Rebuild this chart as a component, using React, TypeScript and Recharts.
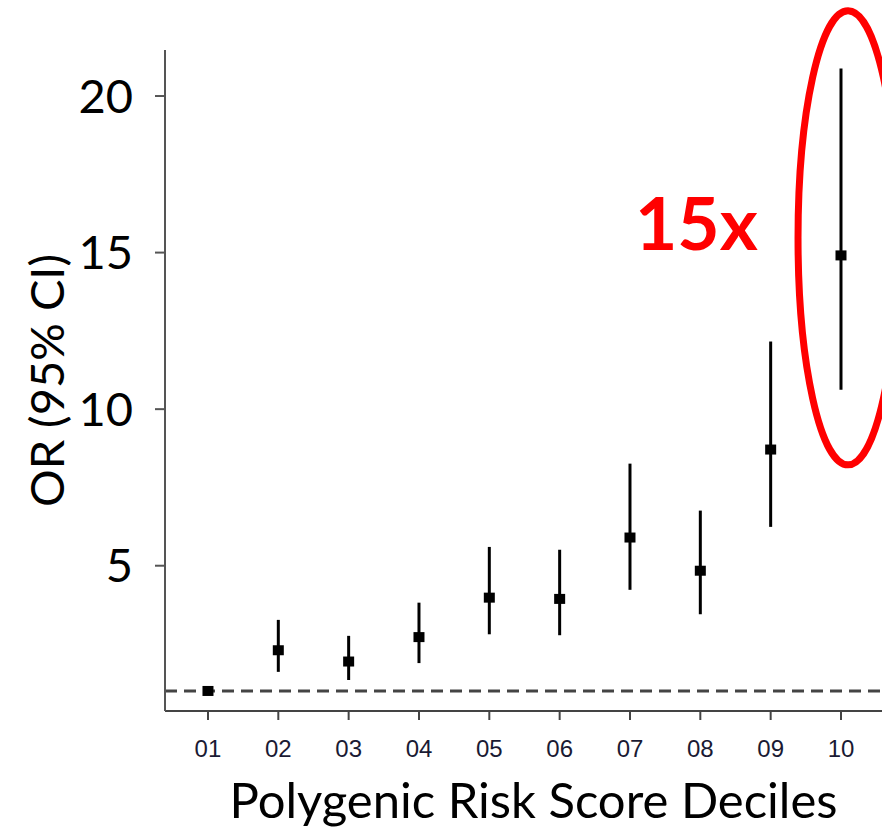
import React from 'react';
import {
  ComposedChart,
  Scatter,
  XAxis,
  YAxis,
  ErrorBar,
  ReferenceLine,
  ReferenceDot,
} from 'recharts';

const decileLabels = ['01', '02', '03', '04', '05', '06', '07', '08', '09', '10'];
const decileNumbers = [1, 2, 3, 4, 5, 6, 7, 8, 9, 10];
const oddsRatio = [1.0, 2.3, 1.94, 2.72, 3.98, 3.94, 5.9, 4.84, 8.71, 14.91];
const ciLower = [1.0, 1.61, 1.35, 1.89, 2.81, 2.78, 4.23, 3.45, 6.24, 10.62];
const ciUpper = [1.0, 3.27, 2.76, 3.82, 5.6, 5.51, 8.26, 6.76, 12.16, 20.88];
const yTicks = [5, 10, 15, 20];
const referenceOR = 1;
const annotationText = '15x';
const annotationAnchor = { x: 10.1, y: 15.47 };

const data = decileNumbers.map((d, i) => ({
  decile: d,
  label: decileLabels[i],
  or: oddsRatio[i],
  err: [oddsRatio[i] - ciLower[i], ciUpper[i] - oddsRatio[i]],
}));

const SquareMarker = (props: any) => {
  const { cx, cy } = props;
  if (cx == null || cy == null) return null;
  return <rect x={cx - 5.5} y={cy - 5} width={11} height={10} fill="#000" />;
};

const Annotation = (props: any) => {
  const { cx, cy } = props;
  if (cx == null || cy == null) return null;
  return (
    <g>
      <ellipse cx={cx} cy={cy} rx={50} ry={227} fill="none" stroke="#ff0000" strokeWidth={7} />
      <text
        x={cx - 213}
        y={cy + 12}
        fill="#ff0000"
        fontFamily="Lato, 'Open Sans', sans-serif"
        fontWeight={700}
        fontSize={73}
      >
        {annotationText}
      </text>
    </g>
  );
};

export default function App() {
  return (
    <div style={{ position: 'absolute', left: 0, top: 0, background: '#fff' }}>
      <ComposedChart
        width={882}
        height={827}
        data={data}
        margin={{ top: 50, right: 0, left: 0, bottom: 0 }}
      >
        <XAxis
          type="number"
          dataKey="decile"
          domain={[0.389, 10.583]}
          allowDataOverflow
          ticks={decileNumbers}
          tickFormatter={(v: number) => decileLabels[v - 1]}
          height={116}
          axisLine={{ stroke: '#444', strokeWidth: 2 }}
          tickLine={{ stroke: '#444', strokeWidth: 2 }}
          tickSize={9}
          tickMargin={20}
          tick={{ fill: '#1a1a33', fontSize: 24, fontFamily: "'Liberation Sans', Arial, sans-serif" }}
          label={{
            value: 'Polygenic Risk Score Deciles',
            position: 'insideBottom',
            offset: 9,
            dx: 10,
            style: { fill: '#000', fontSize: 49, fontFamily: "Lato, 'Open Sans', sans-serif" },
          }}
        />
        <YAxis
          type="number"
          dataKey="or"
          domain={[0.36, 21.47]}
          allowDataOverflow
          ticks={yTicks}
          width={165}
          axisLine={{ stroke: '#555', strokeWidth: 2 }}
          tickLine={{ stroke: '#555', strokeWidth: 2 }}
          tickSize={10}
          tickMargin={22}
          tick={{ fill: '#000', fontSize: 47, fontFamily: "Lato, 'Open Sans', sans-serif" }}
          label={{
            value: 'OR (95% CI)',
            angle: -90,
            position: 'insideLeft',
            offset: 47,
            style: { textAnchor: 'middle', fill: '#000', fontSize: 47, fontFamily: "Lato, 'Open Sans', sans-serif" },
          }}
        />
        <ReferenceLine
          y={referenceOR}
          stroke="#444"
          strokeWidth={3}
          strokeDasharray="12 7"
        />
        <Scatter dataKey="or" shape={SquareMarker} isAnimationActive={false}>
          <ErrorBar dataKey="err" direction="y" width={0} stroke="#000" strokeWidth={3} />
        </Scatter>
        <ReferenceDot
          x={annotationAnchor.x}
          y={annotationAnchor.y}
          r={0}
          ifOverflow="visible"
          shape={Annotation}
        />
      </ComposedChart>
    </div>
  );
}
